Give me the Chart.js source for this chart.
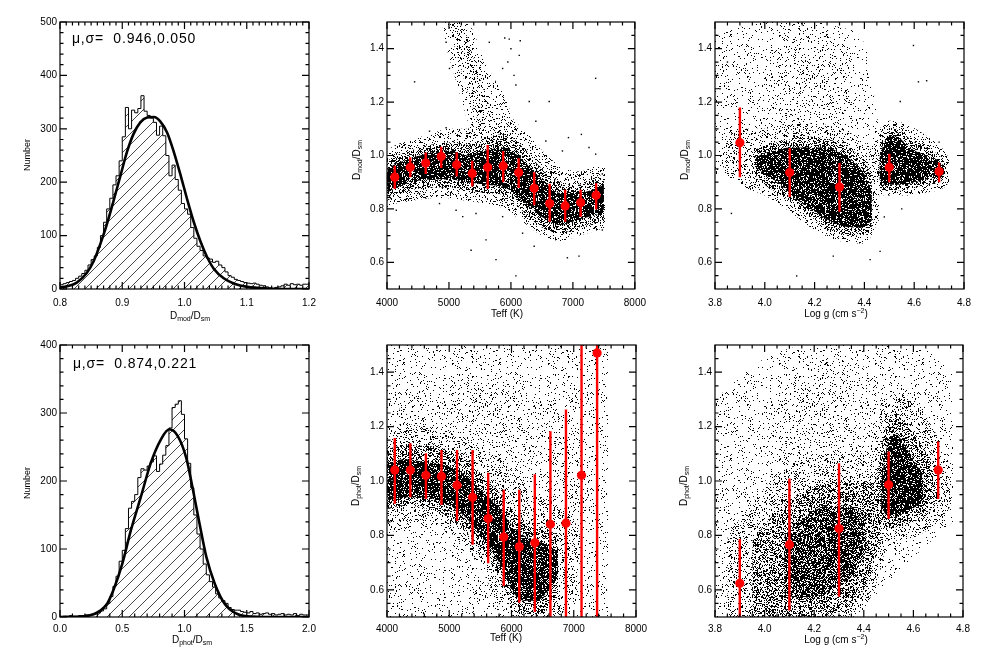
<!DOCTYPE html>
<html>
<head>
<meta charset="utf-8">
<script src="https://cdn.jsdelivr.net/npm/chart.js@4.4.1/dist/chart.umd.min.js"></script>
<style>
body { margin: 0; background: #fff; width: 981px; height: 656px; position: relative; overflow: hidden;
       font-family: "Liberation Sans", Arial, sans-serif; color: #000; }
canvas { position: absolute; }
.lab { position: absolute; font-size: 10px; line-height: 12px; white-space: nowrap; transform: translate(-50%, -50%); }
.rot { transform: translate(-50%, -50%) rotate(-90deg); }
.lab sub, .lab sup { font-size: 7px; line-height: 0; }
.lab sub { vertical-align: -2px; }
.lab sup { vertical-align: 4px; }
.ann { position: absolute; font-size: 14px; line-height: 16px; letter-spacing: 0.8px; white-space: pre; }
</style>
</head>
<body>
<canvas id="tl" width="327" height="328" style="left:0;top:0"></canvas>
<canvas id="tm" width="327" height="328" style="left:327px;top:0"></canvas>
<canvas id="tr" width="327" height="328" style="left:654px;top:0"></canvas>
<canvas id="bl" width="327" height="328" style="left:0;top:328px"></canvas>
<canvas id="bm" width="327" height="328" style="left:327px;top:328px"></canvas>
<canvas id="br" width="327" height="328" style="left:654px;top:328px"></canvas>

<div class="ann" style="left:72px;top:30px">μ,σ=  0.946,0.050</div>
<div class="ann" style="left:73px;top:355px">μ,σ=  0.874,0.221</div>

<div class="lab" style="left:190px;top:316px">D<sub>mod</sub>/D<sub>sm</sub></div>
<div class="lab" style="left:507px;top:314px">Teff (K)</div>
<div class="lab" style="left:836px;top:314px">Log g (cm s<sup>−2</sup>)</div>
<div class="lab" style="left:192px;top:640px">D<sub>phot</sub>/D<sub>sm</sub></div>
<div class="lab" style="left:506px;top:638px">Teff (K)</div>
<div class="lab" style="left:836px;top:640px">Log g (cm s<sup>−2</sup>)</div>

<div class="lab rot" style="left:27px;top:155px;font-size:9px">Number</div>
<div class="lab rot" style="left:357px;top:160px">D<sub>mod</sub>/D<sub>sm</sub></div>
<div class="lab rot" style="left:685px;top:160px">D<sub>mod</sub>/D<sub>sm</sub></div>
<div class="lab rot" style="left:27px;top:483px;font-size:9px">Number</div>
<div class="lab rot" style="left:356px;top:486px">D<sub>phot</sub>/D<sub>sm</sub></div>
<div class="lab rot" style="left:684px;top:486px">D<sub>phot</sub>/D<sub>sm</sub></div>

<script>
// ---- histograms ----
const modBinStart = 0.8, modBinWidth = 0.005;
const modCounts = [12,8,10,12,14,16,20,24,29,35, 45,55,62,78,100,125,150,170,195,212,
  240,285,340,300,335,330,338,362,333,325, 320,312,288,305,287,250,212,232,205,185,
  160,150,140,115,95,80,72,62,58,56, 50,52,45,40,32,25,22,18,16,14,
  12,11,10,11,9,7,6,4,2,1, 3,4,6,9,7,10,8,9,7,9];
const modFitX = [0.800,0.811,0.827,0.843,0.854,0.865,0.875,0.886,0.897,0.908,0.918,0.929,0.940,0.951,
  0.961,0.972,0.983,0.994,1.004,1.015,1.026,1.037,1.047,1.063,1.080,1.101,1.133,1.187,1.200];
const modFitY = [3,5,12,30,52,85,120,165,212,258,290,312,321,322,314,293,256,212,169,125,88,58,38,20,10,4,1,0,0];

const photBinStart = 0.0, photBinWidth = 0.025;
const photCounts = [1,0,1,0,2,1,1,2,2,3, 3,4,5,6,9,12,20,30,45,60,
  82,98,130,160,170,180,205,218,216,222, 228,237,214,225,238,252,278,308,313,318,
  298,262,226,190,150,122,100,78,62,52, 44,34,28,24,20,14,11,10,10,8,
  7,6,8,5,6,4,5,6,4,5, 3,4,5,3,4,3,5,2,4,3];
const photFitX = [0.0,0.19,0.27,0.32,0.38,0.43,0.50,0.57,0.65,0.73,0.81,0.878,0.946,1.014,1.068,1.12,1.176,1.243,1.324,1.405,1.50,1.70,2.0];
const photFitY = [0,1,4,9,20,40,78,128,177,227,261,276,266,234,187,138,88,49,19,6,1,0,0];

// ---- binned medians with error bars ----
const teffBins = [4125,4375,4625,4875,5125,5375,5625,5875,6125,6375,6625,6875,7125,7375];
const loggBins = [3.9,4.1,4.3,4.5,4.7];
const tmMed = [0.919,0.956,0.972,0.996,0.965,0.933,0.956,0.961,0.936,0.877,0.820,0.811,0.824,0.851];
const tmLo  = [0.875,0.919,0.931,0.953,0.921,0.884,0.875,0.900,0.878,0.814,0.752,0.752,0.771,0.798];
const tmHi  = [0.962,0.993,1.011,1.033,1.011,0.980,1.039,1.017,0.990,0.937,0.894,0.872,0.872,0.896];
const trMed = [1.048,0.936,0.882,0.956,0.940];
const trLo  = [0.919,0.845,0.789,0.900,0.900];
const trHi  = [1.180,1.027,0.972,1.007,0.974];
const bmMed = [1.040,1.040,1.021,1.017,0.984,0.940,0.862,0.794,0.758,0.773,0.841,0.845,1.021,1.471];
const bmLo  = [0.916,0.940,0.934,0.912,0.853,0.766,0.698,0.614,0.552,0.518,0.45,0.40,0.20,0.20];
const bmHi  = [1.158,1.139,1.102,1.114,1.114,1.114,1.030,0.968,0.968,1.025,1.183,1.263,2.00,2.80];
const brMed = [0.624,0.766,0.825,0.986,1.040];
const brLo  = [0.400,0.524,0.574,0.860,0.934];
const brHi  = [0.787,1.009,1.065,1.108,1.145];

// ---- star clouds, read as density bands (x, lower edge, upper edge) ----
const tmCoreX = [4000,4150,4400,4700,5000,5300,5600,5900,6200,6500,6800,7100,7400,7500];
const tmCoreLo = [0.86,0.88,0.90,0.91,0.91,0.90,0.89,0.88,0.83,0.77,0.74,0.76,0.78,0.79];
const tmCoreHi = [0.95,0.97,0.99,1.01,1.02,1.00,1.02,1.03,0.98,0.91,0.86,0.86,0.88,0.89];
const tmMidLo = [0.83,0.85,0.87,0.88,0.88,0.87,0.86,0.85,0.79,0.73,0.71,0.73,0.75,0.76];
const tmMidHi = [0.98,1.00,1.02,1.04,1.05,1.04,1.07,1.08,1.03,0.95,0.90,0.89,0.92,0.93];
const tmHaloX = [4000,4150,4400,4700,5000,5300,5600,5900,6200,6500,6800,7100,7400,7520];
const tmHaloLo = [0.80,0.82,0.83,0.84,0.84,0.83,0.82,0.80,0.75,0.70,0.68,0.70,0.72,0.73];
const tmHaloHi = [1.02,1.04,1.06,1.08,1.10,1.10,1.14,1.14,1.10,1.02,0.96,0.94,0.96,0.96];
const tmPlumeX = [5000,5100,5200,5300,5400,5500,5600,5700,5800];
const tmPlumeLo = [1.47,1.40,1.32,1.24,1.17,1.11,1.06,1.04,1.03];
const tmPlumeHi = [1.50,1.50,1.50,1.44,1.36,1.29,1.22,1.16,1.10];
const tmSpreadX = [4900,5000,5100,5200,5300,5400,5500,5600,5700,5800,5900,6000,6100,6200];
const tmSpreadLo = [1.45,1.37,1.29,1.21,1.13,1.07,1.04,1.04,1.04,1.04,1.04,1.03,1.03,1.02];
const tmSpreadHi = [1.50,1.50,1.50,1.50,1.50,1.46,1.40,1.34,1.30,1.26,1.22,1.16,1.10,1.05];
const tmOutX = [4445,5357,5598,5759,6080,6375,6911,7099,7367,6617,6928,7137,7367,6724,5115,5222,5437,5866,4847,4525,
  4954,4686,6563,6295,6134,5973,4954,5008,5651,5866,6080,6402,6831,7260,7475,7475,4150,6188,5900,6000,6150,5950,6050];
const tmOutY = [1.276,0.645,0.684,0.61,0.549,0.66,0.617,0.623,1.289,1.202,1.067,1.079,1.005,0.832,0.795,0.771,0.783,0.771,0.82,0.857,
  1.104,1.091,1.054,1.202,1.375,1.436,1.424,1.326,1.424,1.326,1.264,1.128,1.017,1.03,0.931,0.721,0.795,0.709,1.44,1.40,1.43,1.35,1.30];

const trAX = [3.96,4.00,4.05,4.10,4.15,4.20,4.25,4.30,4.35,4.40,4.43];
const trACoreLo = [0.96,0.93,0.90,0.86,0.82,0.79,0.76,0.74,0.73,0.73,0.76];
const trACoreHi = [0.99,1.01,1.02,1.03,1.03,1.03,1.03,1.01,0.98,0.93,0.86];
const trAMidLo = [0.93,0.89,0.86,0.83,0.79,0.76,0.73,0.71,0.70,0.70,0.72];
const trAMidHi = [1.02,1.04,1.05,1.06,1.07,1.07,1.06,1.05,1.02,0.98,0.92];
const trAHaloX = [3.84,3.92,4.00,4.10,4.20,4.30,4.40,4.46];
const trAHaloLo = [0.93,0.88,0.85,0.79,0.72,0.68,0.67,0.76];
const trAHaloHi = [1.07,1.10,1.10,1.12,1.12,1.10,1.05,0.98];
const trBX = [4.46,4.48,4.50,4.53,4.56,4.60,4.65,4.70,4.72];
const trBCoreLo = [0.91,0.89,0.89,0.89,0.89,0.90,0.91,0.92,0.93];
const trBCoreHi = [0.99,1.05,1.07,1.07,1.05,1.02,1.00,0.98,0.96];
const trBMidLo = [0.88,0.87,0.87,0.87,0.87,0.88,0.89,0.90,0.91];
const trBMidHi = [1.03,1.08,1.10,1.10,1.08,1.05,1.03,1.00,0.98];
const trBHaloX = [4.43,4.50,4.56,4.64,4.72,4.74];
const trBHaloLo = [0.86,0.85,0.85,0.86,0.88,0.90];
const trBHaloHi = [1.06,1.13,1.12,1.08,1.02,0.99];
const trSparseX = [3.80,3.90,4.00,4.10,4.20,4.30,4.40,4.46];
const trSparseLo = [0.92,1.02,1.06,1.08,1.08,1.06,1.02,0.98];
const trSparseHi = [1.45,1.48,1.50,1.50,1.50,1.48,1.42,1.10];
const trUpperX = [4.00,4.10,4.20,4.30,4.35];
const trUpperLo = [1.08,1.08,1.08,1.08,1.08];
const trUpperHi = [1.42,1.45,1.45,1.42,1.35];
const trOutX = [4.275,4.463,4.128,4.423,3.866,4.597,4.544,4.617,4.700,4.650,3.85,3.82,4.55,4.48];
const trOutY = [0.623,0.641,0.549,0.61,0.783,1.412,1.202,1.276,1.05,1.28,1.35,1.25,0.80,0.77];

const bmCoreX = [4000,4300,4600,4900,5200,5500,5800,6000,6200,6400,6600,6750];
const bmCoreLo = [0.93,0.94,0.94,0.92,0.88,0.80,0.70,0.60,0.56,0.56,0.60,0.66];
const bmCoreHi = [1.07,1.08,1.07,1.06,1.03,0.97,0.90,0.84,0.80,0.78,0.76,0.74];
const bmMidLo = [0.90,0.91,0.90,0.88,0.83,0.75,0.65,0.55,0.51,0.51,0.53,0.58];
const bmMidHi = [1.12,1.13,1.13,1.12,1.09,1.03,0.96,0.90,0.86,0.84,0.82,0.80];
const bmHaloX = [4000,4300,4600,4900,5200,5500,5800,6100,6400,6700,7000,7100];
const bmHaloLo = [0.80,0.84,0.85,0.83,0.77,0.68,0.55,0.50,0.50,0.50,0.60,0.70];
const bmHaloHi = [1.20,1.21,1.20,1.19,1.17,1.13,1.08,1.02,0.95,0.92,0.86,0.80];
const bmUpperX = [4200,4800,5400,6000,6600,7200];
const bmUpperLo = [1.15,1.15,1.10,1.00,0.90,0.85];
const bmUpperHi = [1.30,1.35,1.38,1.35,1.30,1.20];
const bmBgX = [4000,7550];
const bmBgLo = [0.5,0.5];
const bmBgHi = [1.5,1.5];

const brACoreX = [4.08,4.15,4.22,4.29,4.36,4.41];
const brACoreLo = [0.58,0.57,0.58,0.61,0.66,0.74];
const brACoreHi = [0.80,0.86,0.90,0.91,0.90,0.86];
const brAMidX = [3.95,4.02,4.10,4.20,4.30,4.40,4.47];
const brAMidLo = [0.50,0.50,0.50,0.50,0.52,0.60,0.78];
const brAMidHi = [0.78,0.86,0.93,0.98,1.00,1.00,0.96];
const brAHaloX = [3.85,3.95,4.05,4.15,4.25,4.35,4.45,4.50];
const brAHaloLo = [0.50,0.50,0.50,0.50,0.50,0.50,0.62,0.80];
const brAHaloHi = [0.80,0.92,1.02,1.08,1.10,1.10,1.08,1.00];
const brBCoreX = [4.47,4.50,4.53,4.56,4.60,4.64];
const brBCoreLo = [0.90,0.87,0.87,0.88,0.90,0.93];
const brBCoreHi = [1.00,1.15,1.17,1.14,1.08,1.02];
const brBMidX = [4.45,4.49,4.53,4.58,4.64,4.70];
const brBMidLo = [0.86,0.83,0.83,0.84,0.87,0.92];
const brBMidHi = [1.00,1.20,1.25,1.20,1.12,1.04];
const brBHaloX = [4.42,4.48,4.55,4.62,4.70,4.76];
const brBHaloLo = [0.78,0.78,0.78,0.80,0.85,0.92];
const brBHaloHi = [1.10,1.30,1.32,1.28,1.16,1.06];
const brUpperX = [4.00,4.15,4.30,4.45];
const brUpperLo = [1.00,1.05,1.08,1.10];
const brUpperHi = [1.25,1.40,1.45,1.40];
const brBgX = [3.80,4.00,4.20,4.40,4.60,4.76];
const brBgLo = [0.50,0.50,0.50,0.55,0.72,0.85];
const brBgHi = [1.30,1.45,1.50,1.50,1.50,1.40];

// ---- axis ticks ----
const modTicksX = [0.8,0.9,1.0,1.1,1.2];
const modTicksY = [0,100,200,300,400,500];
const photTicksX = [0.0,0.5,1.0,1.5,2.0];
const photTicksY = [0,100,200,300,400];
const teffTicks = [4000,5000,6000,7000,8000];
const loggTicks = [3.8,4.0,4.2,4.4,4.6,4.8];
const ratioTicks = [0.6,0.8,1.0,1.2,1.4];

// ---------------------------------------------------------------
const W = 327, H = 328;
const FONT = {family: 'Liberation Sans, Arial, sans-serif', size: 10};

function speckle(p) {
  const n = 96;
  const c = document.createElement('canvas');
  c.width = n; c.height = n;
  const g = c.getContext('2d');
  g.fillStyle = '#000';
  for (let j = 0; j < n; j++) {
    for (let i = 0; i < n; i++) {
      const h = Math.sin(i * 12.9898 + j * 78.233) * 43758.5453;
      if (h - Math.floor(h) < p) g.fillRect(i, j, 1, 1);
    }
  }
  return g.createPattern(c, 'repeat');
}

function hatch() {
  const s = 11;
  const c = document.createElement('canvas');
  c.width = s; c.height = s;
  const g = c.getContext('2d');
  g.strokeStyle = '#333';
  g.lineWidth = 0.9;
  g.beginPath();
  [-s, 0, s].forEach(o => { g.moveTo(o, s); g.lineTo(o + s, 0); });
  g.stroke();
  return g.createPattern(c, 'repeat');
}

const P = {
  core: speckle(0.82), dense: speckle(0.70), mid: speckle(0.42), plume: speckle(0.20),
  halo: speckle(0.18), upper: speckle(0.09), sparse: speckle(0.06), bg: speckle(0.04)
};

// box with inward major/minor ticks on all four sides
function boxTicks(xMinor, yMinor) {
  return {
    id: 'boxTicks',
    afterDraw(chart) {
      const {ctx, chartArea: a} = chart;
      const xs = chart.scales.x, ys = chart.scales.y;
      ctx.save();
      ctx.strokeStyle = '#000';
      ctx.lineWidth = 1.2;
      ctx.strokeRect(a.left, a.top, a.right - a.left, a.bottom - a.top);
      ctx.beginPath();
      const mark = (scale, v, len, horiz) => {
        const p = scale.getPixelForValue(v);
        if (horiz) {
          ctx.moveTo(p, a.bottom); ctx.lineTo(p, a.bottom - len);
          ctx.moveTo(p, a.top); ctx.lineTo(p, a.top + len);
        } else {
          ctx.moveTo(a.left, p); ctx.lineTo(a.left + len, p);
          ctx.moveTo(a.right, p); ctx.lineTo(a.right - len, p);
        }
      };
      const minors = (scale, step, horiz) => {
        const n = Math.round((scale.max - scale.min) / step);
        for (let i = 1; i < n; i++) mark(scale, scale.min + i * step, 3.5, horiz);
      };
      minors(xs, xMinor, true);
      minors(ys, yMinor, false);
      xs.ticks.forEach(t => mark(xs, t.value, 7, true));
      ys.ticks.forEach(t => mark(ys, t.value, 7, false));
      ctx.stroke();
      ctx.restore();
    }
  };
}

function errBars(xv, lo, hi) {
  return {
    id: 'errBars',
    afterDatasetsDraw(chart) {
      const {ctx, chartArea: a} = chart;
      const xs = chart.scales.x, ys = chart.scales.y;
      ctx.save();
      ctx.beginPath();
      ctx.rect(a.left, a.top, a.right - a.left, a.bottom - a.top);
      ctx.clip();
      ctx.strokeStyle = '#ff0000';
      ctx.lineWidth = 2.4;
      ctx.beginPath();
      xv.forEach((v, i) => {
        const px = xs.getPixelForValue(v);
        ctx.moveTo(px, ys.getPixelForValue(lo[i]));
        ctx.lineTo(px, ys.getPixelForValue(hi[i]));
      });
      ctx.stroke();
      ctx.restore();
    }
  };
}

function options(box, xr, yr) {
  return {
    responsive: false,
    animation: false,
    events: [],
    layout: {padding: {left: 0, right: W - box.r, top: box.t, bottom: 0}},
    plugins: {legend: {display: false}, tooltip: {enabled: false}},
    scales: {
      x: {
        type: 'linear', min: xr.ticks[0], max: xr.ticks[xr.ticks.length - 1],
        afterBuildTicks: s => { s.ticks = xr.ticks.map(v => ({value: v})); },
        afterFit: s => { s.height = H - box.b; },
        grid: {display: false, drawTicks: false, tickLength: 0}, border: {display: false},
        ticks: {font: FONT, color: '#000', padding: box.xpad, maxRotation: 0, autoSkip: false,
                callback: v => xr.fmt(v)}
      },
      y: {
        type: 'linear', min: yr.min, max: yr.max,
        afterBuildTicks: s => { s.ticks = yr.ticks.map(v => ({value: v})); },
        afterFit: s => { s.width = box.l; },
        grid: {display: false, drawTicks: false, tickLength: 0}, border: {display: false},
        ticks: {font: FONT, color: '#000', padding: 3, autoSkip: false, callback: v => yr.fmt(v)}
      }
    }
  };
}

function pts(xs, ys) { return xs.map((x, i) => ({x: x, y: ys[i]})); }

function band(xs, lo, hi, pattern, order) {
  const common = {type: 'line', borderColor: 'rgba(0,0,0,0)', borderWidth: 0, pointRadius: 0,
                  cubicInterpolationMode: 'monotone', order: order};
  return [
    Object.assign({data: pts(xs, hi), fill: '+1', backgroundColor: pattern}, common),
    Object.assign({data: pts(xs, lo), fill: false}, common)
  ];
}

function histPoints(start, width, counts) {
  const d = counts.map((c, i) => ({x: start + i * width, y: c}));
  d.push({x: start + counts.length * width, y: counts[counts.length - 1]});
  return d;
}

const f1 = v => v.toFixed(1);
const f0 = v => String(Math.round(v));

function histChart(id, box, xr, yr, start, width, counts, fitX, fitY, xMinor, yMinor) {
  new Chart(document.getElementById(id), {
    type: 'line',
    data: {datasets: [
      {data: pts(fitX, fitY), borderColor: '#000', borderWidth: 2.6, pointRadius: 0,
       cubicInterpolationMode: 'monotone', fill: false, order: 0},
      {data: histPoints(start, width, counts), stepped: 'after', borderColor: '#000', borderWidth: 1,
       pointRadius: 0, fill: 'origin', backgroundColor: hatch(), order: 1}
    ]},
    options: options(box, xr, yr),
    plugins: [boxTicks(xMinor, yMinor)]
  });
}

function cloudChart(id, box, xr, yr, bins, med, lo, hi, layers, outX, outY, xMinor, yMinor) {
  const sets = [
    {type: 'scatter', data: pts(bins, med), pointRadius: 4.6, pointStyle: 'circle',
     backgroundColor: '#ff0000', borderWidth: 0, order: 0}
  ];
  if (outX) {
    sets.push({type: 'scatter', data: pts(outX, outY), pointRadius: 1, pointStyle: 'rect',
               backgroundColor: '#000', borderWidth: 0, order: 1});
  }
  layers.forEach((L, k) => sets.push(...band(L[0], L[1], L[2], L[3], 2 + k)));
  new Chart(document.getElementById(id), {
    type: 'scatter',
    data: {datasets: sets},
    options: options(box, xr, yr),
    plugins: [errBars(bins, lo, hi), boxTicks(xMinor, yMinor)]
  });
}

const topRow = {t: 22, b: 289, xpad: 8};
const botRow = {t: 17, b: 289, xpad: 6};
const ratioAxis = {min: 0.5, max: 1.5, ticks: ratioTicks, fmt: f1};

histChart('tl', Object.assign({l: 60, r: 309}, topRow),
  {ticks: modTicksX, fmt: f1}, {min: 0, max: 500, ticks: modTicksY, fmt: f0},
  modBinStart, modBinWidth, modCounts, modFitX, modFitY, 0.01, 20);

histChart('bl', Object.assign({l: 60, r: 309}, botRow),
  {ticks: photTicksX, fmt: f1}, {min: 0, max: 400, ticks: photTicksY, fmt: f0},
  photBinStart, photBinWidth, photCounts, photFitX, photFitY, 0.1, 20);

cloudChart('tm', Object.assign({l: 60, r: 309}, topRow), {ticks: teffTicks, fmt: f0}, ratioAxis,
  teffBins, tmMed, tmLo, tmHi, [
    [tmCoreX, tmCoreLo, tmCoreHi, P.core],
    [tmCoreX, tmMidLo, tmMidHi, P.mid],
    [tmPlumeX, tmPlumeLo, tmPlumeHi, P.plume],
    [tmHaloX, tmHaloLo, tmHaloHi, P.halo],
    [tmSpreadX, tmSpreadLo, tmSpreadHi, P.upper]
  ], tmOutX, tmOutY, 200, 0.05);

cloudChart('tr', Object.assign({l: 61, r: 310}, topRow), {ticks: loggTicks, fmt: f1}, ratioAxis,
  loggBins, trMed, trLo, trHi, [
    [trAX, trACoreLo, trACoreHi, P.core],
    [trBX, trBCoreLo, trBCoreHi, P.core],
    [trAX, trAMidLo, trAMidHi, P.mid],
    [trBX, trBMidLo, trBMidHi, P.mid],
    [trAHaloX, trAHaloLo, trAHaloHi, P.halo],
    [trBHaloX, trBHaloLo, trBHaloHi, P.halo],
    [trUpperX, trUpperLo, trUpperHi, P.upper],
    [trSparseX, trSparseLo, trSparseHi, P.sparse]
  ], trOutX, trOutY, 0.05, 0.05);

cloudChart('bm', Object.assign({l: 60, r: 309}, botRow), {ticks: teffTicks, fmt: f0}, ratioAxis,
  teffBins, bmMed, bmLo, bmHi, [
    [bmCoreX, bmCoreLo, bmCoreHi, P.core],
    [bmCoreX, bmMidLo, bmMidHi, P.mid],
    [bmHaloX, bmHaloLo, bmHaloHi, P.halo],
    [bmUpperX, bmUpperLo, bmUpperHi, P.upper],
    [bmBgX, bmBgLo, bmBgHi, P.sparse]
  ], null, null, 200, 0.05);

cloudChart('br', Object.assign({l: 61, r: 309}, botRow), {ticks: loggTicks, fmt: f1}, ratioAxis,
  loggBins, brMed, brLo, brHi, [
    [brACoreX, brACoreLo, brACoreHi, P.dense],
    [brBCoreX, brBCoreLo, brBCoreHi, P.core],
    [brAMidX, brAMidLo, brAMidHi, P.mid],
    [brBMidX, brBMidLo, brBMidHi, P.mid],
    [brAHaloX, brAHaloLo, brAHaloHi, P.halo],
    [brBHaloX, brBHaloLo, brBHaloHi, P.halo],
    [brUpperX, brUpperLo, brUpperHi, P.upper],
    [brBgX, brBgLo, brBgHi, P.sparse]
  ], null, null, 0.05, 0.05);
</script>
</body>
</html>
